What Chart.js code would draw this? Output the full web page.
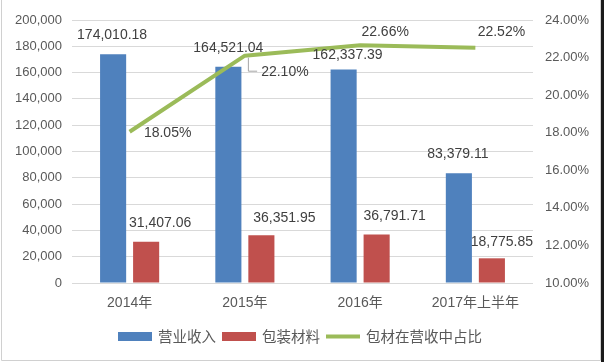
<!DOCTYPE html>
<html>
<head>
<meta charset="utf-8">
<script src="https://cdn.jsdelivr.net/npm/chart.js@4.4.1/dist/chart.umd.min.js"></script>
<style>
  html, body { margin: 0; padding: 0; background: #ffffff; }
  #wrap { position: relative; width: 604px; height: 362px; }
  canvas { display: block; }
</style>
</head>
<body>
<div id="wrap"><canvas id="c" width="604" height="362"></canvas></div>
<script>
// ---- data ----
const categories = ['2014年', '2015年', '2016年', '2017年上半年'];
const revenue = [174010.18, 164521.04, 162337.39, 83379.11];      // 营业收入
const packaging = [31407.06, 36351.95, 36791.71, 18775.85];      // 包装材料
const share = [18.05, 22.10, 22.66, 22.52];                      // 包材在营收中占比 (%)
const seriesNames = ['营业收入', '包装材料', '包材在营收中占比'];
const leftTicks = { min: 0, max: 200000, step: 20000 };
const rightTicks = { min: 10, max: 24, step: 2 };

// ---- styles ----
const BLUE = '#4F81BD', RED = '#C0504D', GREEN = '#9BBB59';
const FONT = "'Liberation Sans', 'Noto Sans CJK SC', sans-serif";
const CJK = "'Noto Sans CJK SC', 'Liberation Sans', sans-serif";
// label offsets (px) relative to bar top / point
const labelOffsets = [
  [[-1, -19], [0, -19], [4, -14], [-1, -19]],
  [[14, -19], [23, -17], [18, -18], [10, -16]],
  [[38, 1], [40, 16], [25, -13], [26, -16]]
];

const fmtNum = v => v.toLocaleString('en-US', { minimumFractionDigits: 2, maximumFractionDigits: 2 });

const labelPlugin = {
  id: 'labels',
  afterDatasetsDraw(chart) {
    const ctx = chart.ctx;
    ctx.save();
    ctx.font = '14px ' + FONT;
    ctx.fillStyle = '#404040';
    ctx.textAlign = 'center';
    ctx.textBaseline = 'middle';
    chart.data.datasets.forEach((ds, di) => {
      const meta = chart.getDatasetMeta(di);
      meta.data.forEach((el, i) => {
        const off = labelOffsets[di][i];
        const x = el.x + off[0], y = el.y + off[1];
        const txt = di === 2 ? ds.data[i].toFixed(2) + '%' : fmtNum(ds.data[i]);
        ctx.fillText(txt, x, y);
        if (di === 2 && i === 1) {
          const w = ctx.measureText(txt).width;
          ctx.strokeStyle = '#A6A6A6';
          ctx.lineWidth = 1;
          ctx.beginPath();
          ctx.moveTo(el.x + 3.5, el.y + 2);
          ctx.lineTo(el.x + 3.5, y - 0.5);
          ctx.lineTo(x - w / 2 - 4, y - 0.5);
          ctx.stroke();
        }
      });
    });
    ctx.restore();
  }
};

const legendPlugin = {
  id: 'customLegend',
  afterDraw(chart) {
    const ctx = chart.ctx;
    ctx.save();
    ctx.font = '14.5px ' + CJK;
    ctx.textBaseline = 'middle';
    ctx.fillStyle = '#595959';
    const cy = 336.5;
    const boxW = 34, gap = 6;
    const colors = [BLUE, RED, GREEN];
    let total = 0;
    seriesNames.forEach((n, i) => { total += boxW + gap + ctx.measureText(n).width + (i < 2 ? gap : 0); });
    let x = 300 - total / 2;
    seriesNames.forEach((n, i) => {
      if (i < 2) {
        ctx.fillStyle = colors[i];
        ctx.fillRect(x, cy - 4.5, boxW, 9);
      } else {
        ctx.strokeStyle = colors[i];
        ctx.lineWidth = 4;
        ctx.beginPath();
        ctx.moveTo(x, cy);
        ctx.lineTo(x + boxW, cy);
        ctx.stroke();
      }
      x += boxW + gap;
      ctx.fillStyle = '#595959';
      ctx.textAlign = 'left';
      ctx.fillText(n, x, cy);
      x += ctx.measureText(n).width + gap;
    });
    // frame
    ctx.strokeStyle = '#D0D0D0';
    ctx.lineWidth = 1;
    ctx.beginPath();
    ctx.moveTo(1.5, 0); ctx.lineTo(1.5, 360.5); ctx.lineTo(600.5, 360.5); ctx.lineTo(600.5, 0);
    ctx.stroke();
    ctx.fillStyle = '#1a1a1a';
    ctx.fillRect(601, 0, 3, 362);
    ctx.restore();
  }
};

Chart.defaults.font.family = FONT;
Chart.defaults.color = '#595959';

new Chart(document.getElementById('c'), {
  type: 'bar',
  data: {
    labels: categories,
    datasets: [
      { label: seriesNames[0], data: revenue, backgroundColor: BLUE, yAxisID: 'y', order: 2,
        categoryPercentage: 0.573, barPercentage: 0.79 },
      { label: seriesNames[1], data: packaging, backgroundColor: RED, yAxisID: 'y', order: 2,
        categoryPercentage: 0.573, barPercentage: 0.79 },
      { type: 'line', label: seriesNames[2], data: share, borderColor: GREEN, borderWidth: 4,
        pointRadius: 0, tension: 0, yAxisID: 'y1', order: 1, borderJoinStyle: 'round', borderCapStyle: 'butt' }
    ]
  },
  options: {
    responsive: false,
    animation: false,
    layout: { padding: { top: 20, bottom: 0, left: 0, right: 0 } },
    plugins: { legend: { display: false }, tooltip: { enabled: false } },
    scales: {
      x: {
        grid: { display: false, drawTicks: false },
        border: { display: false },
        ticks: { font: { size: 14, family: FONT }, color: '#595959', padding: 12, maxRotation: 0, autoSkip: false },
        afterFit(s) { s.height = 79; }
      },
      y: {
        position: 'left',
        min: leftTicks.min, max: leftTicks.max,
        ticks: { stepSize: leftTicks.step, font: { size: 13 }, color: '#595959', padding: 10,
          callback: v => v.toLocaleString('en-US') },
        grid: { color: '#D9D9D9', drawTicks: false },
        border: { display: false },
        afterFit(s) { s.width = 72; }
      },
      y1: {
        position: 'right',
        min: rightTicks.min, max: rightTicks.max,
        ticks: { stepSize: rightTicks.step, font: { size: 13 }, color: '#595959', padding: 12,
          callback: v => v.toFixed(2) + '%' },
        grid: { display: false, drawTicks: false },
        border: { display: false },
        afterFit(s) { s.width = 71; }
      }
    }
  },
  plugins: [labelPlugin, legendPlugin]
});
</script>
</body>
</html>
